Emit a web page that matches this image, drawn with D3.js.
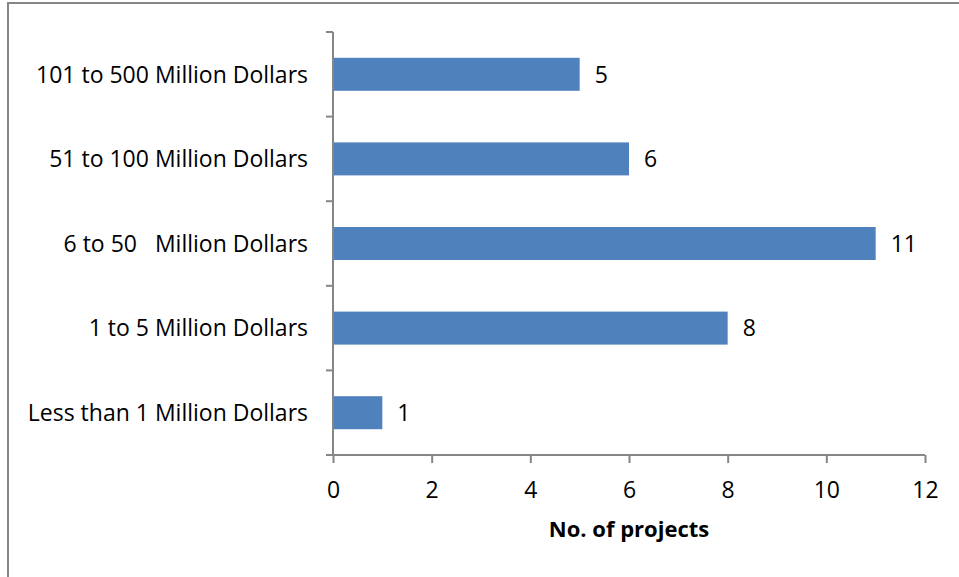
<!DOCTYPE html>
<html>
<head>
<meta charset="utf-8">
<script src="https://cdn.jsdelivr.net/npm/d3@7"></script>
<style>
  html, body { margin: 0; padding: 0; background: #fff; }
  svg { display: block; }
  text { font-family: "Open Sans", "Liberation Sans", sans-serif; fill: #000; }
</style>
</head>
<body>
<svg id="chart" width="959" height="577"></svg>
<script>
// Project counts by budget size
const categories = [
  "101 to 500 Million Dollars",
  "51 to 100 Million Dollars",
  "6 to 50\u00A0\u00A0 Million Dollars",
  "1 to 5 Million Dollars",
  "Less than 1 Million Dollars"
];
const projectCounts = [5, 6, 11, 8, 1];
const xTicks = [0, 2, 4, 6, 8, 10, 12];
const xTitle = "No. of projects";

const svg = d3.select("#chart");
const axisColor = "#868686";
const barColor = "#4F81BD";
const fontSize = 23;

// chart frame
svg.append("rect")
  .attr("x", 8).attr("y", 3)
  .attr("width", 1000).attr("height", 1000)
  .attr("fill", "none")
  .attr("stroke", axisColor)
  .attr("stroke-width", 2);

const plotLeft = 333, plotRight = 925, plotTop = 32, plotBottom = 455;

const x = d3.scaleLinear().domain([0, 12]).range([plotLeft, plotRight]);
const y = d3.scaleBand().domain(categories).range([plotTop, plotBottom]).paddingInner(0.61).paddingOuter(0.305);

const g = svg.append("g");

// bars
g.selectAll("rect.bar")
  .data(categories)
  .join("rect")
  .attr("class", "bar")
  .attr("x", x(0) + 1)
  .attr("y", d => y(d))
  .attr("width", (d, i) => x(projectCounts[i]) - x(0) - 1)
  .attr("height", y.bandwidth())
  .attr("fill", barColor);

// value labels
g.selectAll("text.val")
  .data(categories)
  .join("text")
  .attr("class", "val")
  .attr("x", (d, i) => x(projectCounts[i]) + 15)
  .attr("y", d => y(d) + y.bandwidth() / 2)
  .attr("dy", "0.36em")
  .attr("font-size", fontSize)
  .text((d, i) => projectCounts[i]);

// x axis
const xAxis = d3.axisBottom(x).tickValues(xTicks).tickSize(8).tickPadding(19).tickSizeOuter(0);
const gx = svg.append("g").attr("transform", `translate(0,${plotBottom})`).call(xAxis);
gx.select(".domain").attr("stroke", axisColor).attr("stroke-width", 2).attr("d", `M${plotLeft - 7},0H${plotRight}`);
gx.selectAll(".tick line").attr("stroke", axisColor).attr("stroke-width", 2);
gx.selectAll(".tick text").attr("font-size", fontSize).attr("font-family", "Open Sans, sans-serif").attr("fill", "#000");

// y axis: boundary ticks between categories
const yBounds = d3.range(categories.length + 1).map(i => plotTop + i * (plotBottom - plotTop) / categories.length);
svg.append("line")
  .attr("x1", plotLeft).attr("x2", plotLeft)
  .attr("y1", plotTop).attr("y2", plotBottom)
  .attr("stroke", axisColor).attr("stroke-width", 2);
svg.selectAll("line.ytick")
  .data(yBounds)
  .join("line")
  .attr("class", "ytick")
  .attr("x1", plotLeft - 7).attr("x2", plotLeft)
  .attr("y1", d => d).attr("y2", d => d)
  .attr("stroke", axisColor).attr("stroke-width", 2);

// category labels
svg.selectAll("text.cat")
  .data(categories)
  .join("text")
  .attr("class", "cat")
  .attr("x", 308)
  .attr("y", d => y(d) + y.bandwidth() / 2)
  .attr("dy", "0.36em")
  .attr("text-anchor", "end")
  .attr("font-size", fontSize)
  .text(d => d);

// axis title
svg.append("text")
  .attr("x", 629)
  .attr("y", 537)
  .attr("text-anchor", "middle")
  .attr("font-size", 22)
  .attr("font-weight", "bold")
  .text(xTitle);
</script>
</body>
</html>
